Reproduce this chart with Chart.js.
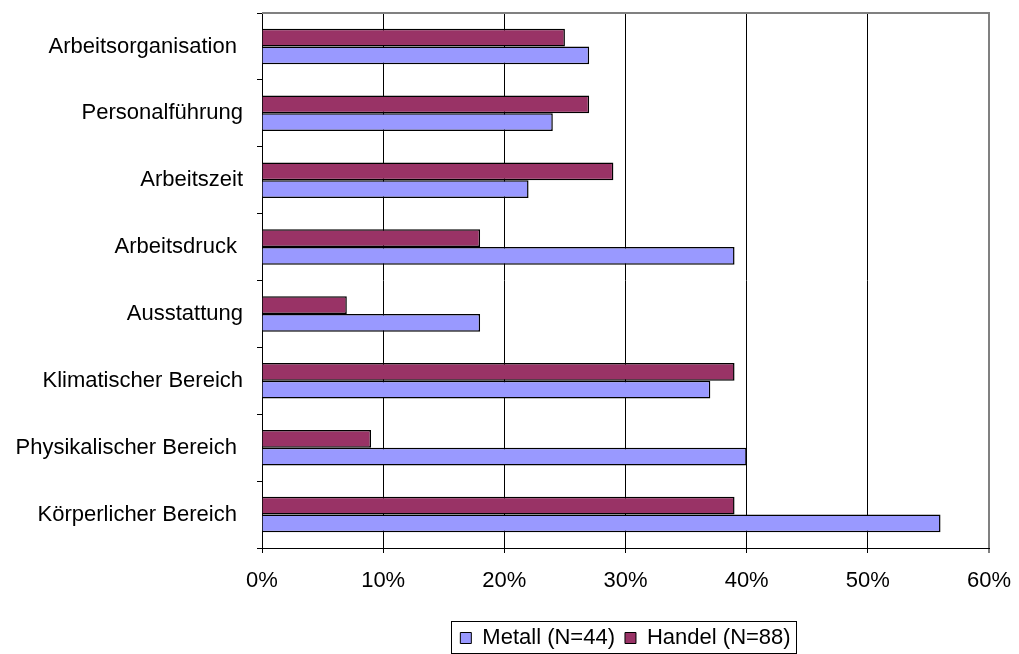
<!DOCTYPE html>
<html>
<head>
<meta charset="utf-8">
<script src="https://cdn.jsdelivr.net/npm/chart.js@4.4.1/dist/chart.umd.min.js"></script>
<style>
  html, body { margin: 0; padding: 0; background: #fff; }
  #wrap { width: 1019px; height: 654px; }
</style>
</head>
<body>
<div id="wrap"><canvas id="chart" width="1019" height="654"></canvas></div>
<script>
// categories, top to bottom
var categories = [
  'Arbeitsorganisation ',
  'Personalführung',
  'Arbeitszeit',
  'Arbeitsdruck ',
  'Ausstattung',
  'Klimatischer Bereich',
  'Physikalischer Bereich ',
  'Körperlicher Bereich '
];
var handel = [25, 27, 29, 18, 7, 39, 9, 39];
var metall = [27, 24, 22, 39, 18, 37, 40, 56];
var xTicks = [0, 10, 20, 30, 40, 50, 60];

var font = { family: 'Liberation Sans, Arial, sans-serif', size: 22 };

// gray frame on top/right of the plot area + box round the legend
var framePlugin = {
  id: 'frame',
  afterDraw: function(chart) {
    var c = chart.ctx, a = chart.chartArea;
    c.save();
    c.strokeStyle = '#808080';
    c.lineWidth = 2;
    c.beginPath();
    c.moveTo(a.left, a.top);
    c.lineTo(a.right, a.top);
    c.lineTo(a.right, a.bottom);
    c.stroke();

    var boxes = chart.legend.legendHitBoxes;
    if (boxes && boxes.length) {
      var l = Infinity, r = -Infinity, t = Infinity, b = -Infinity;
      boxes.forEach(function(h) {
        l = Math.min(l, h.left); r = Math.max(r, h.left + h.width);
        t = Math.min(t, h.top); b = Math.max(b, h.top + h.height);
      });
      var x0 = Math.round(l - 9), x1 = Math.round(r + 5);
      var y0 = Math.round(t - 6), y1 = Math.round(b + 4);
      c.strokeStyle = '#000';
      c.lineWidth = 1;
      c.strokeRect(x0 + 0.5, y0 + 0.5, x1 - x0, y1 - y0);
    }
    c.restore();
  }
};

var ctx = document.getElementById('chart').getContext('2d');
var myChart = new Chart(ctx, {
  type: 'bar',
  data: {
    labels: categories,
    datasets: [{
      label: 'Handel (N=88)',
      data: handel,
      backgroundColor: '#993366',
      borderColor: '#000',
      borderWidth: 1.5
    }, {
      label: 'Metall (N=44)',
      data: metall,
      backgroundColor: '#9999FF',
      borderColor: '#000',
      borderWidth: 1.5
    }]
  },
  options: {
    indexAxis: 'y',
    responsive: false,
    animation: false,
    layout: { padding: { top: 13, right: 30, left: 0, bottom: -5 } },
    datasets: { bar: { categoryPercentage: 0.53, barPercentage: 1.0 } },
    scales: {
      x: {
        min: 0,
        max: 60,
        afterBuildTicks: function(scale) {
          scale.ticks = xTicks.map(function(v) { return { value: v }; });
        },
        afterFit: function(scale) {
          scale.height = 69;
          scale.paddingLeft = 0;
          scale.paddingRight = 0;
        },
        grid: {
          color: function(c) { return c.tick && c.tick.value === 60 ? '#808080' : '#000'; },
          lineWidth: function(c) { return c.tick && c.tick.value === 60 ? 2 : 1; },
          tickLength: 5
        },
        border: { color: '#000', width: 1 },
        ticks: {
          font: font,
          color: '#000',
          padding: 15,
          maxRotation: 0,
          callback: function(v) { return v + '%'; }
        }
      },
      y: {
        afterFit: function(scale) {
          scale.width = 262;
          scale.paddingTop = 0;
          scale.paddingBottom = 0;
        },
        grid: {
          offset: true,
          drawOnChartArea: false,
          color: '#000',
          tickLength: 5
        },
        border: { color: '#000', width: 1 },
        ticks: { font: font, color: '#000', padding: 14 }
      }
    },
    plugins: {
      legend: {
        position: 'bottom',
        fullSize: false,
        reverse: true,
        labels: {
          font: font,
          color: '#000',
          boxWidth: 11,
          boxHeight: 11,
          padding: 10,
          generateLabels: function(chart) {
            var items = Chart.defaults.plugins.legend.labels.generateLabels(chart);
            items.forEach(function(it) { it.lineWidth = 1; it.strokeStyle = '#000'; });
            return items;
          }
        }
      },
      tooltip: { enabled: false }
    }
  },
  plugins: [framePlugin]
});
</script>
</body>
</html>
